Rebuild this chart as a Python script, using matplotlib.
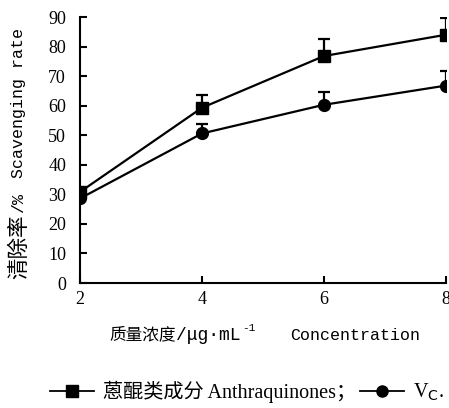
import matplotlib
matplotlib.use("Agg")
import matplotlib.pyplot as plt
import numpy as np
from matplotlib.lines import Line2D

conc = [2, 4, 6, 8]
anthra = [30.8, 59.3, 76.8, 84.0]
anthra_err = [1.0, 4.3, 5.7, 5.8]
vc = [28.6, 50.6, 60.3, 66.8]
vc_err = [0.5, 3.2, 4.4, 4.8]
yticks = [0, 10, 20, 30, 40, 50, 60, 70, 80, 90]
xticks = [2, 4, 6, 8]

W, H = 449, 408
MONO = ['Liberation Mono', 'Noto Sans CJK SC']
CJK = ['Noto Sans CJK SC', 'DejaVu Sans']
SERIF = ['Liberation Serif', 'Noto Sans CJK SC']
plt.rcParams['font.family'] = SERIF

fig = plt.figure(figsize=(W / 100, H / 100), dpi=100)
ax = fig.add_axes([80 / W, 1 - 283 / H, 366 / W, 266 / H])

ax.errorbar(conc, anthra, yerr=[np.zeros(4), anthra_err], color='black', lw=1.6,
            marker='s', ms=8.5, capsize=4.3, elinewidth=1.6, capthick=1.6)
ax.errorbar(conc, vc, yerr=[np.zeros(4), vc_err], color='black', lw=1.6,
            marker='o', ms=8.5, capsize=4.3, elinewidth=1.6, capthick=1.6)

ax.set_xlim(2, 8)
ax.set_ylim(0, 90)
ax.set_xticks(xticks)
ax.set_yticks(yticks)
ax.spines['top'].set_visible(False)
ax.spines['right'].set_visible(False)
for s in ['left', 'bottom']:
    ax.spines[s].set_linewidth(1.5)
ax.tick_params(direction='in', length=5, width=1.5, labelsize=13)
ax.tick_params(axis='y', pad=10)
ax.tick_params(axis='x', pad=6)


def fx(px):
    return px / W


def fy(py):
    return 1 - py / H


# y label pieces (rotated, reading bottom to top)
fig.text(fx(19), fy(279), '清除率', rotation=90, ha='center', va='bottom',
         fontsize=15.5, family=CJK)
fig.text(fx(19), fy(213), '/%', rotation=90, ha='center', va='bottom',
         fontsize=12, family=MONO)
fig.text(fx(19), fy(178), 'Scavenging rate', rotation=90, ha='center', va='bottom',
         fontsize=12, family=MONO)

# x label pieces
fig.canvas.draw()
r = fig.canvas.get_renderer()
t1 = fig.text(fx(109), fy(335), '质量浓度', ha='left', va='center',
              fontsize=12, family=CJK)
e1 = t1.get_window_extent(renderer=r)
t2 = fig.text(e1.x1 / W + 0.002, fy(336), '/μg·mL', ha='left', va='center',
              fontsize=13, family=MONO)
ext = t2.get_window_extent(renderer=r)
fig.text(ext.x1 / W + 0.002, fy(328), '-1', ha='left', va='center',
         fontsize=8, family=MONO)
fig.text(fx(290), fy(336), 'Concentration', ha='left', va='center',
         fontsize=12, family=MONO)

h1 = Line2D([], [], color='black', marker='s', ms=8, lw=1.3)
h2 = Line2D([], [], color='black', marker='o', ms=8, lw=1.3)
fig.legend([h1, h2], ['蒽醌类成分 Anthraquinones；', 'V$_\\mathrm{C}$.'], ncol=2,
           loc='center', bbox_to_anchor=(fx(247), fy(392)), frameon=False,
           handlelength=2.2, handletextpad=0.45, columnspacing=0.15,
           borderpad=0, borderaxespad=0,
           prop={'family': SERIF, 'size': 14.5})

fig.savefig('out.png', dpi=100)
